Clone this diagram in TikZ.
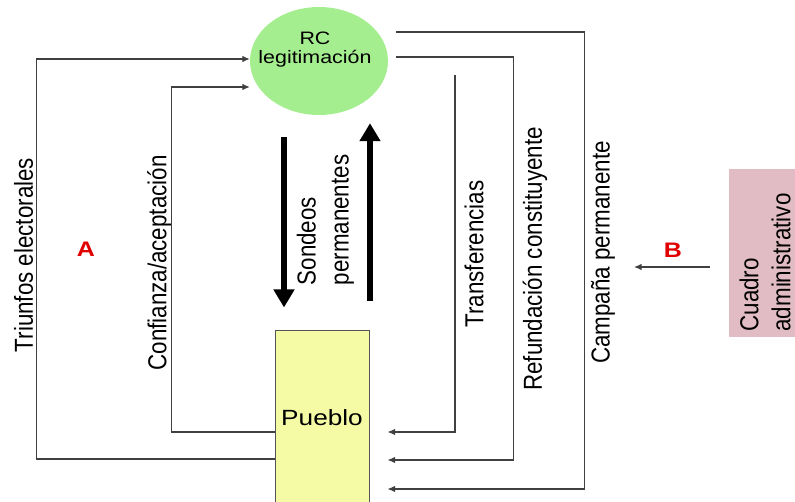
\documentclass[tikz,border=0pt]{standalone}
\usepackage{fontspec}
\usepackage{xcolor}
\usetikzlibrary{positioning, arrows.meta, shapes.geometric}
\newfontfamily\hfont[FakeStretch=1.19]{Liberation Sans}
\newfontfamily\vfont[FakeStretch=0.86]{Liberation Sans}
\definecolor{RCGreen}{HTML}{A4EE8F}
\definecolor{PuebloYellow}{HTML}{F5FBA5}
\definecolor{AdminPink}{HTML}{E2BCC4}
\definecolor{MarkRed}{HTML}{E00000}
\definecolor{LineGray}{HTML}{404040}
\definecolor{BoxGray}{HTML}{555555}

\begin{document}
\begin{tikzpicture}[
  x=1pt, y=-1pt,
  every node/.style={inner sep=0pt, align=center},
  vtext/.style={rotate=90, font=\vfont\fontsize{26}{33}\selectfont},
  htext/.style={font=\hfont\fontsize{18}{19}\selectfont},
  letter/.style={font=\hfont\bfseries\fontsize{21}{21}\selectfont, text=MarkRed},
  flow/.style={draw=LineGray, line width=1.1pt, -{Latex[length=7.5pt,width=6.5pt]}},
  thick arrow/.style={line width=6pt, -{Triangle[width=20pt,length=18pt]}}
]
\useasboundingbox (0,0) rectangle (795,502);

% Main blocks
\node[ellipse, fill=RCGreen, minimum width=138pt, minimum height=108pt] (rc) at (319,61) {};
\node[htext] (rctext) at (315,50) {RC\\legitimación};
\node[draw=BoxGray, line width=1pt, fill=PuebloYellow, minimum width=94pt, minimum height=174pt,
  font=\hfont\fontsize{22}{22}\selectfont] (pueblo) at (322,418) {Pueblo};
\node[fill=AdminPink, minimum width=76pt, minimum height=168pt] (cuadro) at (767,253) {};
\node[vtext, align=left, font=\vfont\fontsize{26}{32}\selectfont] (cuadrotext) at (765,262.5) {Cuadro\\administrativo};

% Labels
\node[vtext] (triunfos) at (23.5,255) {Triunfos electorales};
\node[vtext] (confianza) at (159.5,263) {Confianza/aceptación};
\node[vtext, align=left] (sondeos) at (325.5,220) {Sondeos\\permanentes};
\node[vtext] (transferencias) at (474,254) {Transferencias};
\node[vtext] (refundacion) at (535,259) {Refundación constituyente};
\node[vtext] (campana) at (603,252.5) {Campaña permanente};
\node[letter] (A) at (86,249) {A};
\node[letter] (B) at (673,250) {B};

% Free ends
\coordinate (transtop) at (455,75);
\coordinate (btip) at (634,267);

% Connections
\draw[flow] (pueblo.west |- 0,459) -- ++(-238,0) |- (rc.west |- 0,59);
\draw[flow] (pueblo.west |- 0,432) -- ++(-103,0) |- (rc.west |- 0,87);

\draw[thick arrow, shorten <=22pt, shorten >=23pt] (rc.south -| 284,0) -- (pueblo.north -| 284,0);
\draw[thick arrow, shorten <=29pt, shorten >=8pt] (pueblo.north -| 370,0) -- (rc.south -| 370,0);

\draw[flow, shorten >=18pt] (transtop) |- (pueblo.east |- 0,432);
\draw[flow, shorten <=8pt, shorten >=18pt] (rc.east |- 0,57) -- ++(125,0) |- (pueblo.east |- 0,460);
\draw[flow, shorten <=8pt, shorten >=18pt] (rc.east |- 0,32) -- ++(196,0) |- (pueblo.east |- 0,489);

\draw[flow, shorten <=19pt] (cuadro.west |- 0,267) -- (btip);

\end{tikzpicture}
\end{document}
